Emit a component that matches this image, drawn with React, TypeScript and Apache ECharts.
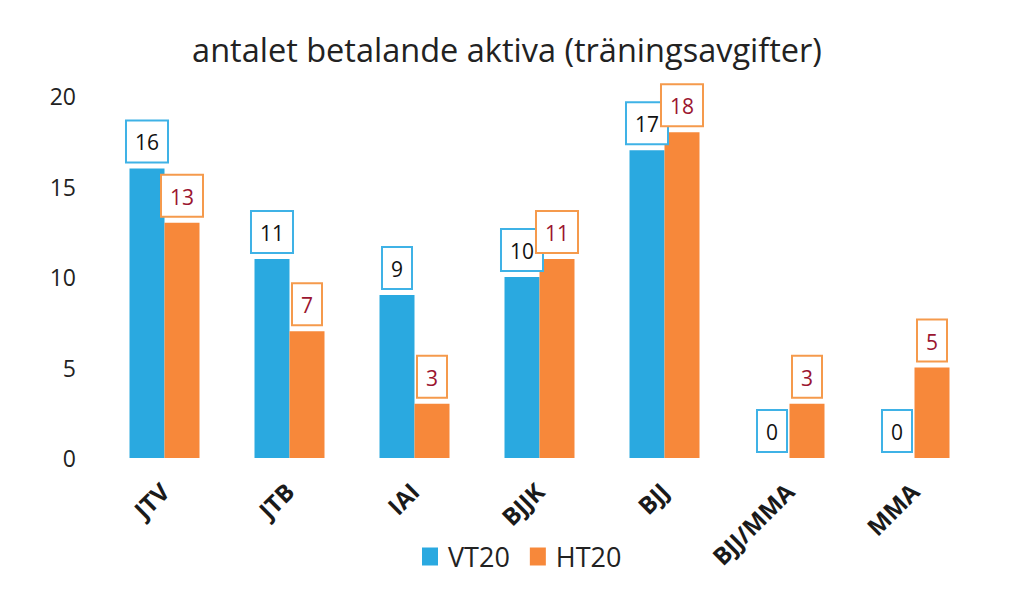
import React, { useEffect, useRef } from "react";
import * as echarts from "echarts";

const titleText = "antalet betalande aktiva (träningsavgifter)";
const categories = ["JTV", "JTB", "IAI", "BJJK", "BJJ", "BJJ/MMA", "MMA"];
const vt20 = [16, 11, 9, 10, 17, 0, 0];
const ht20 = [13, 7, 3, 11, 18, 3, 5];
const seriesNames = ["VT20", "HT20"];

const BLUE = "#2aa9e0";
const ORANGE = "#f7883a";
const FONT = "'Open Sans', sans-serif";

export default function App() {
  const ref = useRef<HTMLDivElement>(null);
  useEffect(() => {
    if (!ref.current) return;
    const chart = echarts.init(ref.current, undefined, { renderer: "svg" });
    const label = (border: string, color: string) => ({
      show: true,
      position: "top" as const,
      distance: 7,
      fontFamily: FONT,
      fontSize: 21,
      lineHeight: 24,
      color,
      backgroundColor: "#ffffff",
      borderColor: border,
      borderWidth: 2,
      padding: [9, 8, 7, 8],
    });
    chart.setOption({
      animation: false,
      backgroundColor: "#ffffff",
      title: {
        text: titleText,
        left: "center",
        top: 28,
        textStyle: { fontFamily: FONT, fontSize: 32.5, fontWeight: "normal", color: "#222222" },
      },
      legend: {
        data: seriesNames,
        bottom: 24,
        left: 417,
        icon: "rect",
        itemWidth: 16,
        itemHeight: 18,
        itemGap: 20,
        textStyle: { fontFamily: FONT, fontSize: 27, color: "#222222", padding: [0, 0, 0, 5] },
      },
      grid: { left: 102, right: 37, top: 96, bottom: 141, containLabel: false },
      xAxis: {
        type: "category",
        data: categories,
        axisLine: { show: false },
        axisTick: { show: false },
        axisLabel: {
          rotate: 45,
          interval: 0,
          margin: 29,
          fontFamily: FONT,
          fontSize: 24,
          fontWeight: "bold",
          color: "#1a1a1a",
        },
      },
      yAxis: {
        type: "value",
        min: 0,
        max: 20,
        interval: 5,
        splitLine: { show: false },
        axisLine: { show: false },
        axisTick: { show: false },
        axisLabel: { fontFamily: FONT, fontSize: 23, color: "#222222", margin: 26 },
      },
      series: [
        {
          name: seriesNames[0],
          type: "bar",
          data: vt20,
          barGap: "0%",
          barCategoryGap: "44%",
          itemStyle: { color: BLUE },
          label: label("#3fb2e6", "#111111"),
        },
        {
          name: seriesNames[1],
          type: "bar",
          data: ht20,
          itemStyle: { color: ORANGE },
          label: label("#f59a4c", "#9b1530"),
        },
      ],
    });
    return () => chart.dispose();
  }, []);
  return <div ref={ref} style={{ width: 1014, height: 599, margin: -8 }} />;
}
